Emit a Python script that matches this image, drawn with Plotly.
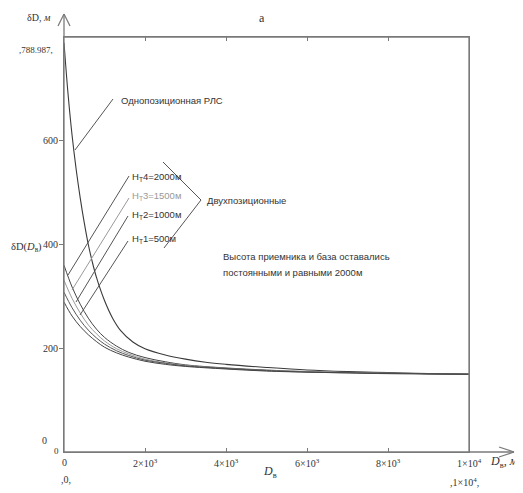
import plotly.graph_objects as go

# ---- data ----
d_mono = [0, 100, 200, 300, 400, 500, 600, 700, 800, 1000, 1200, 1400, 1700, 2000, 2500,
          3000, 3500, 4000, 5000, 6000, 7000, 8000, 9000, 10000]
v_mono = [789, 690, 610, 545, 490, 442, 400, 366, 337, 292, 258, 234, 212, 199, 187,
          179, 173, 169, 163, 158, 155, 153, 151, 150]

d_bi = [0, 200, 400, 600, 800, 1000, 1300, 1600, 2000, 2500, 3000, 4000, 5000, 6000, 8000, 10000]
v_h2000 = [360, 318, 285, 258, 237, 221, 204, 192, 182, 174, 168, 162, 158, 155, 152, 150]
v_h1500 = [331, 296, 268, 245, 228, 214, 199, 189, 179, 172, 167, 161, 157, 155, 152, 150]
v_h1000 = [308, 278, 254, 235, 220, 208, 195, 186, 177, 171, 166, 161, 157, 154, 152, 150]
v_h500 = [289, 262, 242, 226, 213, 202, 191, 183, 175, 169, 165, 160, 156, 154, 151, 150]

x_ticks = [0, 2000, 4000, 6000, 8000, 10000]
x_tick_text = ["0", "2×10<sup>3</sup>", "4×10<sup>3</sup>", "6×10<sup>3</sup>", "8×10<sup>3</sup>", "1×10<sup>4</sup>"]
y_ticks = [200, 400, 600]
y_tick_text = ["200", "400", "600"]

# ---- geometry: page has an 8px body margin, so figure px = page px - 8 ----
OFF = 8
L, R, T, B = 64, 469, 37, 452          # plot area in page pixels
W, H = R - L, B - T
FIG_W, FIG_H = 523 - OFF, 493 - OFF


def px(x):
    return (x - L) / W


def py(y):
    return (B - y) / H


AX = "#7a7a7a"
CURVE = "#3a3a3a"
SERIF = "Liberation Serif"
SANS = "Liberation Sans"

fig = go.Figure()
fig.add_trace(go.Scatter(x=d_mono, y=v_mono, mode="lines", line=dict(color=CURVE, width=1.1, shape="spline"),
                         name="Однопозиционная РЛС"))
for vals, col in [(v_h2000, "#444444"), (v_h1500, "#9a9a9a"), (v_h1000, "#555555"), (v_h500, "#444444")]:
    fig.add_trace(go.Scatter(x=d_bi, y=vals, mode="lines", line=dict(color=col, width=1.0, shape="spline")))

shapes = []


def seg(x0, y0, x1, y1, color=AX, width=1.3):
    shapes.append(dict(type="line", xref="paper", yref="paper", x0=px(x0), y0=py(y0), x1=px(x1), y1=py(y1),
                       line=dict(color=color, width=width)))


# frame
seg(64, 37, 469, 37)
seg(469, 37, 469, 452)
# axes with arrows
seg(64, 452, 64, 14)
seg(58, 26, 64, 14)
seg(70, 26, 64, 14)
seg(64, 452, 514, 452)
seg(499, 447, 514, 452)
seg(499, 457, 514, 452)

# leader lines
seg(75, 150, 113, 99, color="#555555", width=1)
seg(129, 176, 68, 275, color="#555555", width=1)
seg(129, 198, 72, 290, color="#999999", width=1)
seg(128, 216, 76, 302, color="#555555", width=1)
seg(128, 241, 80, 315, color="#555555", width=1)
# bracket
seg(163, 162, 201, 200, color="#555555", width=1)
seg(201, 200, 164, 248, color="#555555", width=1)

ann = []


def text(x, y, s, size=10, font=SERIF, color="#333333", xanchor="left", yanchor="middle"):
    ann.append(dict(xref="paper", yref="paper", x=px(x), y=py(y), text=s, showarrow=False,
                    xanchor=xanchor, yanchor=yanchor, font=dict(family=font, size=size, color=color)))


for v, t in zip(x_ticks, x_tick_text):
    text(L + v / 10000 * W, 463, t, size=10, xanchor="center")
for v, t in zip(y_ticks, y_tick_text):
    text(60, B - v / 800 * H, t, size=10, xanchor="right")
text(44, 440, "0", size=10, xanchor="center")
text(61, 451, "0", size=9, xanchor="right")
text(66, 479, ",0,", size=10, xanchor="center")
text(464, 482, ",1×10<sup>4</sup>,", size=10, xanchor="center")
text(270, 472, "<i>D</i><sub>в</sub>", size=12, xanchor="center")
text(488, 462, "<i>D</i><sub>в</sub><i>, м</i>", size=12)
text(53, 18, "δD, <i>м</i>", size=10, xanchor="right")
text(55, 50, ",788.987,", size=9, xanchor="right")
text(9, 247, "δD(<i>D</i><sub>в</sub>)", size=10.5)
text(262, 9, "а", size=12, xanchor="center", yanchor="top")

text(119, 100, "Однопозиционная РЛС", size=9.5, font=SANS)
text(130, 177, "H<sub>T</sub>4=2000м", size=9.5, font=SANS)
text(130, 196, "H<sub>T</sub>3=1500м", size=9.5, font=SANS, color="#999999")
text(130, 215, "H<sub>T</sub>2=1000м", size=9.5, font=SANS)
text(130, 239, "H<sub>T</sub>1=500м", size=9.5, font=SANS)
text(205, 200, "Двухпозиционные", size=9.5, font=SANS)
text(221, 256, "Высота приемника и база оставались", size=9.5, font=SANS)
text(221, 272, "постоянными и равными 2000м", size=9.5, font=SANS)

fig.update_layout(
    width=FIG_W, height=FIG_H,
    margin=dict(l=L - OFF, r=FIG_W - (R - OFF), t=T - OFF, b=FIG_H - (B - OFF), pad=0),
    paper_bgcolor="white", plot_bgcolor="white",
    showlegend=False,
    shapes=shapes, annotations=ann,
    xaxis=dict(range=[0, 10000], showgrid=False, zeroline=False, showline=True, mirror="ticks",
               linecolor=AX, linewidth=1.3, ticks="inside", ticklen=4, tickcolor=AX,
               tickvals=x_ticks, showticklabels=False),
    yaxis=dict(range=[0, 800], showgrid=False, zeroline=False, showline=True, mirror=True,
               linecolor=AX, linewidth=1.3, ticks="outside", ticklen=4, tickcolor=AX,
               tickvals=y_ticks, showticklabels=False),
)

fig.write_html("out.html")
